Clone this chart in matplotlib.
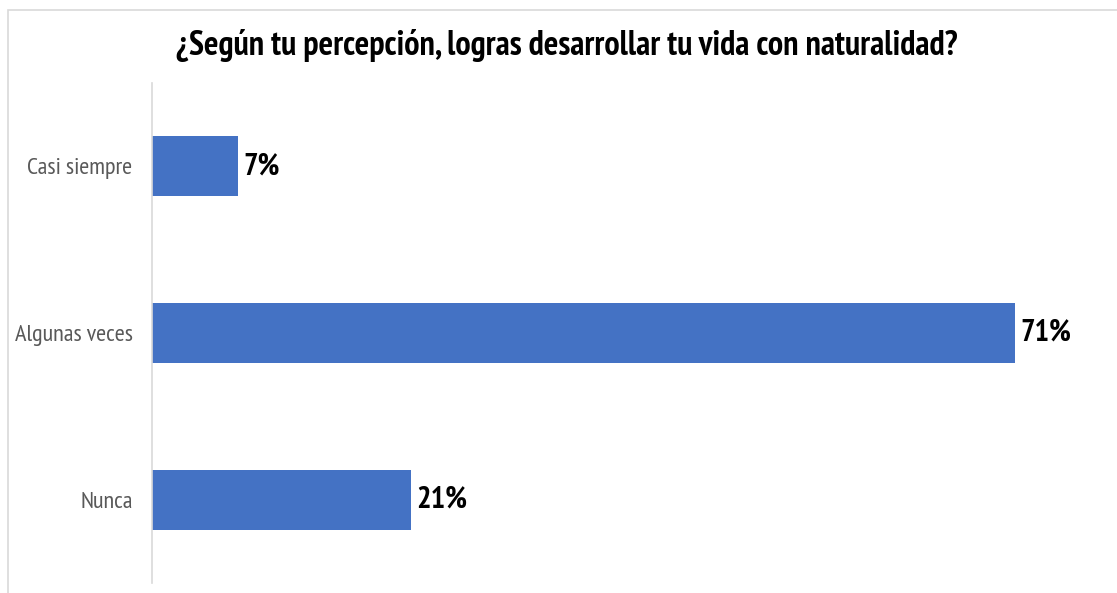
import matplotlib
matplotlib.use('Agg')
import matplotlib.pyplot as plt
from matplotlib.patches import Rectangle

# datos (1/14, 10/14, 3/14 de los encuestados)
categorias = ['Casi siempre', 'Algunas veces', 'Nunca']
porcentajes = [7.14, 71.43, 21.43]
titulo = '¿Según tu percepción, logras desarrollar tu vida con naturalidad?'

plt.rcParams['font.family'] = ['PT Sans Narrow', 'DejaVu Sans']

W, H = 1117, 593
fig = plt.figure(figsize=(W / 100, H / 100), dpi=100)

# marco gris del grafico
fig.patches.append(Rectangle((8 / W, -0.1), 1.2, (H - 10) / H + 0.1,
                             transform=fig.transFigure, fill=False,
                             edgecolor='#d9d9d9', lw=1.2))

x0, x1 = 152, 1100
y_top, y_bot = 83, 583
ax = fig.add_axes([x0 / W, 1 - y_bot / H, (x1 - x0) / W, (y_bot - y_top) / H])

pos = list(range(len(categorias)))
ax.barh(pos, porcentajes, height=0.36, color='#4472c4')
ax.set_ylim(2.5, -0.5)
ax.set_xlim(0, (x1 - x0) / 12.08)

for p, v in zip(pos, porcentajes):
    ax.text(v + 0.45, p, f'{v:.0f}%', va='center', ha='left',
            fontsize=22, fontweight='bold', color='black')

ax.set_yticks(pos)
ax.set_yticklabels(categorias, fontsize=17.5, color='#595959')
ax.tick_params(axis='y', length=0, pad=14)
ax.set_xticks([])
for s in ['top', 'right', 'bottom']:
    ax.spines[s].set_visible(False)
ax.spines['left'].set_color('#d9d9d9')
ax.spines['left'].set_linewidth(1.2)

fig.text(567 / W, 1 - 46 / H, titulo, ha='center', va='center',
         fontsize=24.6, fontweight='bold', color='black')

fig.savefig('out.png', dpi=100)
